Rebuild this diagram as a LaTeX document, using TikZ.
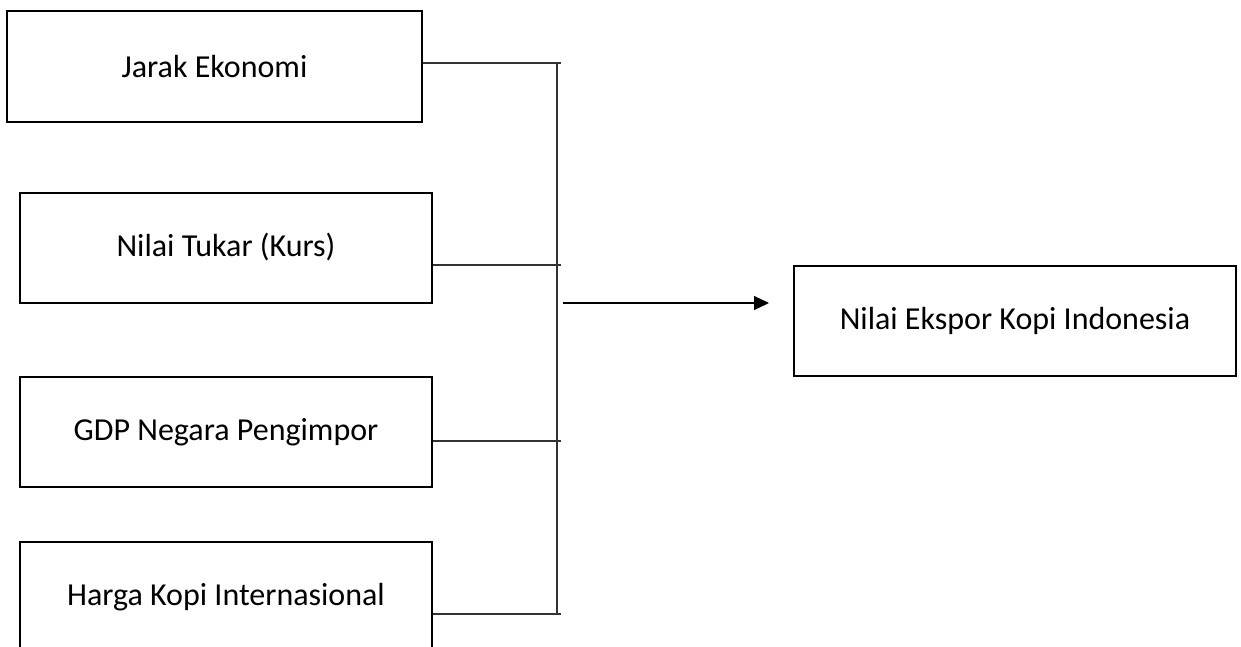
\documentclass[tikz,border=0pt]{standalone}
\usepackage{fontspec}
\setmainfont{Carlito}
\usetikzlibrary{arrows.meta}
\begin{document}
\begin{tikzpicture}[x=1pt,y=-1pt,
  box/.style={draw=black,line width=2pt,minimum height=110pt,inner sep=0pt,font=\fontsize{32}{38}\selectfont},
  conn/.style={draw=black!80,line width=1.1pt},
  arr/.style={draw=black,line width=1.1pt,-{Triangle[length=15pt,width=14pt]}}]
\useasboundingbox (0,0) rectangle (1241,646);
\clip (0,0) rectangle (1241,646);
\node[box,minimum width=415pt,minimum height=111pt] (b1) at (214.5,66.5) {Jarak Ekonomi};
\node[box,minimum width=412pt] (b2) at (226,247.5) {Nilai Tukar (Kurs)};
\node[box,minimum width=412pt] (b3) at (226,432) {GDP Negara Pengimpor};
\node[box,minimum width=412pt] (b4) at (226,597) {Harga Kopi Internasional};
\node[box,minimum width=442pt] (out) at (1015,321) {Nilai Ekspor Kopi Indonesia};
\coordinate (j1) at (561,63);
\coordinate (j2) at (561,265);
\coordinate (j3) at (561,441);
\coordinate (j4) at (561,614);
\coordinate (vt) at (557,63);
\coordinate (vb) at (557,613);
\coordinate (as) at (563,303);
\draw[conn] (b1.east |- j1) -- (j1);
\draw[conn] (b2.east |- j2) -- (j2);
\draw[conn] (b3.east |- j3) -- (j3);
\draw[conn] (b4.east |- j4) -- (j4);
\draw[conn] (vt) -- (vb);
\draw[arr,shorten >=24pt] (as) -- (out.west |- as);
\end{tikzpicture}
\end{document}
